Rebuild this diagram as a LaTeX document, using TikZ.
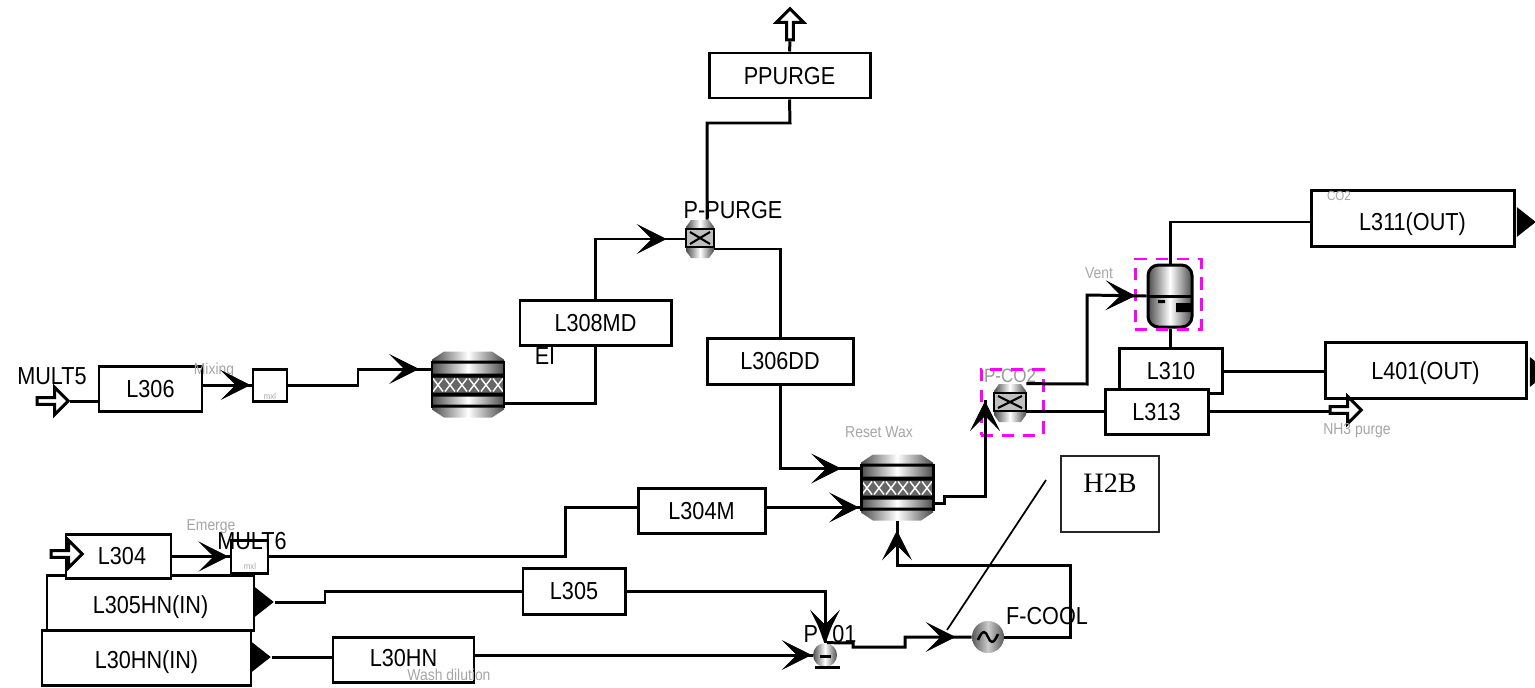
\documentclass[tikz,border=0pt]{standalone}
\usepackage{fontspec}
\setmainfont[FakeStretch=0.88]{Liberation Sans}
\newfontfamily\boxserif{Liberation Serif}
\usetikzlibrary{shapes.geometric, shapes.arrows, arrows.meta, positioning, calc, decorations.markings}
\definecolor{selmag}{RGB}{255,0,255}
\tikzset{
    barbtip/.tip={Stealth[length=0.6cm, width=0.6cm, inset=0.3cm, line width=0.5pt]},
    flow/.style={draw, line width=1.7pt},
    barb/.style={postaction={decorate}, decoration={markings, mark=at position -#1 with {\arrow{barbtip}}}},
    tagbox/.style 2 args={draw, line width=1.7pt, fill=white, inner sep=0pt, minimum width=#1*0.02cm, minimum height=#2*0.02cm, text height=10pt, text depth=0pt, font=\fontsize{14}{16}\selectfont},
    tagtext/.style={inner sep=0pt, font=\fontsize{14}{16}\selectfont},
    tinytext/.style={inner sep=0pt, text=black!35, font=\fontsize{9}{10}\selectfont},
    portarrow/.style={draw, line width=1.7pt, fill=white, single arrow, inner sep=0pt, minimum height=0.62cm, minimum width=0.54cm, single arrow head extend=0.09cm},
    endtri/.style={isosceles triangle, isosceles triangle stretches, fill=black, inner sep=0pt, minimum width=0.6cm, minimum height=0.38cm},
    selbox/.style 2 args={draw=selmag, dash pattern=on 7pt off 5pt, line width=1.7pt, inner sep=0pt, minimum width=#1*0.02cm, minimum height=#2*0.02cm},
    metal/.style={left color=black!70, right color=black!70, middle color=white},
    hidden/.style 2 args={inner sep=0pt, minimum width=#1*0.02cm, minimum height=#2*0.02cm}
}
\newcommand{\drumunit}[2]{%
    \node[hidden={73}{67}] (#1) at (#2) {};
    \begin{scope}[shift={(#2)}]
        \shade[metal] (-24,-33) -- (24,-33) -- (36,-25) -- (36,25) -- (24,33) -- (-24,33) -- (-36,25) -- (-36,-25) -- cycle;
        \fill[black!60] (-36,-8) rectangle (36,9);
        \foreach \hatchx in {-30,-18,...,30}
            \draw[white, line width=0.8pt] (\hatchx-5,-6) -- (\hatchx+5,7) (\hatchx+5,-6) -- (\hatchx-5,7);
        \fill[black] (-36,-24) rectangle (36,-21) (-36,-11) rectangle (36,-7) (-36,8) rectangle (36,12) (-36,20) rectangle (36,23);
        \draw[line width=1.7pt] (-36,-24) -- (-36,23) (36,-24) -- (36,23);
    \end{scope}
}
\newcommand{\sepunit}[4]{%
    \node[hidden={2*#3}{2*#4}] (#1) at (#2) {};
    \begin{scope}[shift={(#2)}]
        \shade[metal] (-#3+5,-#4) -- (#3-5,-#4) -- (#3,-#4+7) -- (#3,#4-7) -- (#3-5,#4) -- (-#3+5,#4) -- (-#3,#4-7) -- (-#3,-#4+7) -- cycle;
        \draw[line width=1.6pt, fill=black!25] (-#3,-10) rectangle (#3,8);
        \draw[line width=1.2pt] (-#3+4,-7) -- (#3-4,5) (#3-4,-7) -- (-#3+4,5);
    \end{scope}
}
\begin{document}
\begin{tikzpicture}[x=0.02cm, y=-0.02cm]
        \clip (0,0) rectangle (1535,687);
        \fill[white] (0,0) rectangle (1535,687);

        \node[tagbox={161}{45}] (ppurge) at (789.5,75.5) {PPURGE};
        \node[tagbox={151}{45}] (l308md) at (595.5,322.5) {L308MD};
        \node[tagbox={146}{46}] (l306dd) at (780,361) {L306DD};
        \node[tagbox={103}{45}] (l306) at (150.5,388.5) {L306};
        \node[tagbox={207}{55}, text height=12pt] (l305hnin) at (150.5,602.5) {L305HN(IN)};
        \node[tagbox={209}{55}, text height=12pt] (l30hnin) at (146.5,657.5) {L30HN(IN)};
        \node[tagbox={105}{44}] (l304) at (118.5,556) {\hspace{0.14cm}L304};
        \node[tagbox={141}{45}, text height=8pt] (l30hn) at (403.5,659.5) {L30HN};
        \node[tagbox={102}{46}] (l305) at (574,591) {L305};
        \node[tagbox={127}{45}] (l304m) at (701.5,510.5) {L304M};
        \node[tagbox={103}{45}] (l310) at (1171,371) {L310};
        \node[tagbox={103}{45}] (l313) at (1156.5,411.5) {L313};
        \node[tagbox={203}{56}, text height=14pt] (l311out) at (1412.5,218.5) {L311(OUT)};
        \node[tagbox={201}{56}, text height=11pt] (l401out) at (1425.5,370) {L401(OUT)};

        \node[tagbox={34}{32}] (mixa) at (270,385) {};
        \node[tagbox={37}{33}] (mixb) at (249.5,556.5) {};
        \node[tinytext, font=\fontsize{5}{6}\selectfont] (mixatag) at (270,396) {mxl};
        \node[tinytext, font=\fontsize{5}{6}\selectfont] (mixbtag) at (250,566) {mxl};

        \drumunit{reactora}{468,384.5}
        \drumunit{reactorb}{897,487.5}
        \sepunit{ppsep}{700,239}{14}{19}

        \node[tagtext, text=black!40, font=\fontsize{11}{12}\selectfont] (co2tag) at (1010,376) {P-CO2};
        \sepunit{co2sep}{1010,403}{16}{19}

        \node[draw, line width=1.7pt, rounded corners=6pt, metal, inner sep=0pt, minimum width=44*0.02cm, minimum height=62*0.02cm] (vessel) at (1170,296) {};
        \draw[line width=1.7pt] (vessel.west) -- (1192,296);
        \fill[black] (1158,300) rectangle (1165,303) (1176,303) rectangle (1192,312);
        \node[circle, inner sep=0pt, minimum size=24*0.02cm, metal] (pumpv) at (825,655) {};
        \draw[line width=1.7pt] (815,667) -- (840,667) (820,656) -- (831,656);
        \node[circle, inner sep=0pt, minimum size=32*0.02cm, left color=black!65, right color=black!65, middle color=black!20] (heater) at (988,637) {};
        \draw[line width=1.4pt] (978,640) .. controls (983,628) and (986,632) .. (988,637) .. controls (990,642) and (993,646) .. (998,634);

        \node[selbox={62}{66}] (co2sel) at (1012,402) {};
        \node[selbox={66}{70}] (ventsel) at (1168,294) {};

        \node[portarrow, shape border rotate=90] (purgeport) at (790,26) {};
        \node[portarrow] (mult5port) at (51,401) {};
        \node[portarrow] (l304port) at (65,554) {};
        \node[portarrow] (nh3port) at (1344,410) {};
        \node[endtri] (tria) at (262,602) {};
        \node[endtri] (trib) at (259,657) {};
        \node[endtri] (tric) at (1524,222) {};
        \node[endtri] (trid) at (1537,372) {};

        \node[tagtext] (mult5) at (52,376) {MULT5};
        \node[tagtext] (mult6) at (252,541) {MULT6};
        \node[tagtext] (ppurgetag) at (733,210) {P-PURGE};
        \node[tagtext] (exitag) at (545,356) {EI};
        \node[tagtext] (pv01tag) at (830,634) {PV01};
        \node[tagtext] (fcooltag) at (1047,616) {F-COOL};
        \node[tinytext] (mixingtag) at (214,370) {Mixing};
        \node[tinytext] (emergetag) at (211,527) {Emerge};
        \node[tinytext] (washtag) at (449,675) {Wash dilution};
        \node[tinytext] (reacttag) at (879,432) {Reset Wax};
        \node[tinytext] (venttag) at (1099,273) {Vent};
        \node[tinytext] (nh3tag) at (1357,431) {NH3 purge};
        \node[tinytext, font=\fontsize{7.5}{8}\selectfont] (co2sm) at (1339,196) {CO2};

        \node[draw=black!85, line width=1pt, inner sep=0pt, minimum width=98*0.02cm, minimum height=76*0.02cm, text depth=0.42cm, font=\boxserif\fontsize{16}{18}\selectfont] (h2b) at (1110,494) {H2B};
        \coordinate (h2bend) at (1046,480);
        \coordinate (coolin) at (947,630);
        \coordinate (co2in) at (985,400);
        \draw[line width=1pt] (h2bend) -- (coolin);

        \draw[flow] (ppurge.north) -- (purgeport.south);
        \draw[flow] (ppurge.south) -- (790,123) -- (707,123) -- ($(ppsep.north)+(7,0)$);
        \draw[flow, barb=0.38cm] (l308md.north) |- (ppsep.west);
        \draw[flow] ($(ppsep.east)+(0,10)$) -| (l306dd.north);
        \draw[flow, barb=0.38cm] (l306dd.south) |- ($(reactorb.west)+(0,-19)$);
        \draw[flow] ($(reactora.east)+(0,19)$) -| (l308md.south);
        \draw[flow] (mult5port.east) -- (l306.west |- mult5port);
        \draw[flow, barb=0.02cm] (l306.east |- mixa) -- (mixa.west);
        \draw[flow, barb=0.24cm] (mixa.east) -- (358,385) -- (358,369) -- ($(reactora.west)+(0,-15.5)$);
        \draw[flow, barb=0.02cm] (l304.east |- mixb) -- (mixb.west);
        \draw[flow] ($(l304m.west)+(0,-3)$) -- (565,507.5) |- (mixb.east);
        \draw[flow, barb=0.02cm] ($(l304m.east)+(0,-3)$) -- (reactorb.west |- 765,507.5);
        \draw[flow] (tria.apex) -- (325,602) |- (l305.west);
        \draw[flow, barb=0.06cm] (l305.east) -| (pumpv.north);
        \draw[flow] (trib.apex) -- (l30hn.west |- trib);
        \draw[flow, barb=0.02cm] (l30hn.east |- pumpv) -- (pumpv.west);
        \draw[flow, barb=0.32cm] ($(pumpv.north)+(2,0)$) -- (853,643) -- (853,647) -- (905,647) -- (905,637) -- (heater.west);
        \draw[flow, barb=0.18cm] (heater.east) -- (1070,637) -- (1070,565) -| (reactorb.south);
        \draw[flow, barb=0.02cm] ($(reactorb.east)+(0,16)$) -- (944,503.5) -- (944,496) -- (985,496) -- (co2in);
        \draw[flow, barb=0.22cm] (co2sep.north east) -- (1087,384) -- (1087,295) -- (vessel.west);
        \draw[flow] (co2sep.east |- l313) -- (l313.west);
        \draw[flow] (l313.east) -- (nh3port.west |- l313);
        \draw[flow] (vessel.north) |- ($(l311out.west)+(0,3.5)$);
        \draw[flow] (vessel.south) -- (vessel.south |- l310.north);
        \draw[flow] (l310.east) -- (l401out.west |- l310);
    \end{tikzpicture}
\end{document}
